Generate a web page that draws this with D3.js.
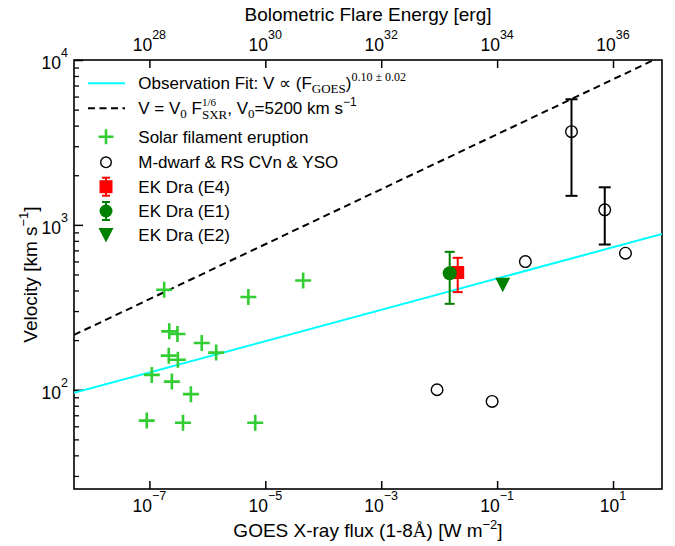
<!DOCTYPE html>
<html><head><meta charset="utf-8">
<script src="https://cdn.jsdelivr.net/npm/d3@7"></script>
<style>body{margin:0;background:#fff}svg{display:block}text{white-space:pre}</style>
</head><body>
<svg id="c" width="675" height="546"></svg>
<script>
// ---------- data ----------
const solarFlux = [1.8e-7, 5.1e-6, 4.5e-5, 2.2e-7, 3.05e-7, 8.0e-7, 1.42e-6, 2.16e-7, 3.1e-7, 1.1e-7, 2.44e-7, 5.2e-7, 9.0e-8, 3.8e-7, 6.7e-6];
const solarVel  = [404, 365, 460, 226, 218, 192, 168, 161, 152, 123, 112, 94, 65, 63, 63];

const stellarFlux    = [0.307, 0.0092, 0.082, 1.92, 7.2, 16.4];
const stellarVel     = [599, 100, 85, 3675, 1233, 673];
const stellarErrLow  = [null, null, null, 1500, 760, null];
const stellarErrHigh = [null, null, null, 5780, 1690, null];

const ekNames = ["EK Dra (E4)", "EK Dra (E1)", "EK Dra (E2)"];
const ekFlux  = [0.0209, 0.0152, 0.125];
const ekVel   = [514, 509, 433];
const ekLow   = [391, 332, null];
const ekHigh  = [631, 686, null];

const fitAmp = 588, fitExp = 0.095;       // observation fit V = A F^b
const v0 = 5200, v0Exp = 1 / 6;            // V = V0 F^(1/6)

const xTicks = [1e-7, 1e-5, 1e-3, 1e-1, 1e1];
const xTickExp = ["−7", "−5", "−3", "−1", "1"];
const topTicks = [1e28, 1e30, 1e32, 1e34, 1e36];
const topTickExp = ["28", "30", "32", "34", "36"];
const yTicks = [1e2, 1e3, 1e4];
const yTickExp = ["2", "3", "4"];
const energyFactor = 1e35;

// ---------- layout ----------
const L = 74, R = 662, T = 60, B = 489;
const sans = "'Liberation Sans', Arial, sans-serif";
const serif = "'Liberation Serif', 'Times New Roman', serif";
const svg = d3.select("#c");

const x = d3.scaleLog().domain([5e-9, 70]).range([L, R]);
const xTop = d3.scaleLog().domain([5e-9 * energyFactor, 70 * energyFactor]).range([L, R]);
const y = d3.scaleLog().domain([25, 1e4]).range([B, T]);

svg.append("defs").append("clipPath").attr("id", "clip")
  .append("rect").attr("x", L).attr("y", T).attr("width", R - L).attr("height", B - T);

// rich text helper
function rich(g, x0, y0, segs, anchor) {
  const grp = g.append("g");
  let cx = x0, held = 0;
  segs.forEach(s => {
    const t = grp.append("text").attr("x", cx).attr("y", y0 + (s.dy || 0))
      .style("font-family", s.serif ? serif : sans)
      .style("font-size", (s.size || 17) + "px").attr("fill", "#000").text(s.t);
    const w = t.node().getComputedTextLength();
    if (s.hold) { held = w; }
    else { cx += Math.max(w, held) + (s.gap || 0); held = 0; }
  });
  if (anchor === "middle") grp.attr("transform", `translate(${-(cx - x0) / 2},0)`);
  return grp;
}

// ---------- axes ----------
const axB = d3.axisBottom(x).tickValues(xTicks).tickFormat("").tickSize(-8).tickSizeOuter(0);
svg.append("g").attr("transform", `translate(0,${B})`).call(axB)
  .call(g => g.select(".domain").remove())
  .call(g => g.selectAll("line").attr("stroke-width", 1.5));
const axT = d3.axisTop(xTop).tickValues(topTicks).tickFormat("").tickSize(-8).tickSizeOuter(0);
svg.append("g").attr("transform", `translate(0,${T})`).call(axT)
  .call(g => g.select(".domain").remove())
  .call(g => g.selectAll("line").attr("stroke-width", 1.5));
const axL = d3.axisLeft(y).tickValues(yTicks).tickFormat("").tickSize(-9).tickSizeOuter(0);
svg.append("g").attr("transform", `translate(${L},0)`).call(axL)
  .call(g => g.select(".domain").remove())
  .call(g => g.selectAll("line").attr("stroke-width", 1.5));
const minor = [];
[10, 100, 1000].forEach(d => { for (let k = 2; k <= 9; k++) { const v = k * d; if (v >= 25 && v < 1e4) minor.push(v); } });
const axLm = d3.axisLeft(y).tickValues(minor).tickFormat("").tickSize(-5).tickSizeOuter(0);
svg.append("g").attr("transform", `translate(${L},0)`).call(axLm)
  .call(g => g.select(".domain").remove())
  .call(g => g.selectAll("line").attr("stroke-width", 1.3));

// tick labels
function expLabel(g, px, py, exp, anchor) {
  const t = g.append("text").attr("x", px).attr("y", py).attr("text-anchor", anchor)
    .style("font-family", sans).style("font-size", "17.5px");
  t.append("tspan").text("10");
  t.append("tspan").attr("dy", -12).style("font-size", "12.5px").text(exp);
}
xTicks.forEach((v, i) => expLabel(svg, x(v), 512, xTickExp[i], "middle"));
topTicks.forEach((v, i) => expLabel(svg, xTop(v), 51, topTickExp[i], "middle"));
yTicks.forEach((v, i) => expLabel(svg, 68, y(v) + 9, yTickExp[i], "end"));

// frame
svg.append("rect").attr("x", L).attr("y", T).attr("width", R - L).attr("height", B - T)
  .attr("fill", "none").attr("stroke", "#000").attr("stroke-width", 1.6);

// axis titles
rich(svg, (L + R) / 2, 21, [{ t: "Bolometric Flare Energy [erg]", size: 19 }], "middle");
rich(svg, (L + R) / 2, 537, [
  { t: "GOES X-ray flux (1-8", size: 19 }, { t: "Å", size: 19, serif: true },
  { t: ") [W m", size: 19 }, { t: "−2", size: 13, dy: -8 }, { t: "]", size: 19 }], "middle");
const yt = svg.append("g").attr("transform", `translate(37,${(T + B) / 2}) rotate(-90)`);
rich(yt, 0, 0, [{ t: "Velocity [km s", size: 19 }, { t: "−1", size: 13, dy: -9 }, { t: "]", size: 19 }], "middle");

// ---------- lines ----------
const plot = svg.append("g").attr("clip-path", "url(#clip)");
const xs = x.domain();
const line = d3.line().x(d => x(d[0])).y(d => y(d[1]));
plot.append("path").datum(xs.map(f => [f, v0 * Math.pow(f, v0Exp)]))
  .attr("d", line).attr("fill", "none").attr("stroke", "#000").attr("stroke-width", 2)
  .attr("stroke-dasharray", "7,4.5");
plot.append("path").datum(xs.map(f => [f, fitAmp * Math.pow(f, fitExp)]))
  .attr("d", line).attr("fill", "none").attr("stroke", "#00ffff").attr("stroke-width", 2);

// ---------- markers ----------
const plusPath = "M-8,0H8M0,-8V8";
const triPath = "M-7.5,-7L7.5,-7L0,7.5Z";
const lime = "#32cd32", dgreen = "#008000";

solarFlux.forEach((f, i) => {
  plot.append("path").attr("d", plusPath).attr("transform", `translate(${x(f)},${y(solarVel[i])})`)
    .attr("stroke", lime).attr("stroke-width", 2.6).attr("fill", "none");
});

function errBar(g, px, lo, hi, color, cap) {
  g.append("line").attr("x1", px).attr("x2", px).attr("y1", y(lo)).attr("y2", y(hi))
    .attr("stroke", color).attr("stroke-width", 2);
  [lo, hi].forEach(v => g.append("line").attr("x1", px - cap).attr("x2", px + cap)
    .attr("y1", y(v)).attr("y2", y(v)).attr("stroke", color).attr("stroke-width", 2));
}

stellarFlux.forEach((f, i) => {
  if (stellarErrLow[i] != null) errBar(plot, x(f), stellarErrLow[i], stellarErrHigh[i], "#000", 6);
  plot.append("circle").attr("cx", x(f)).attr("cy", y(stellarVel[i])).attr("r", 5.8)
    .attr("fill", "none").attr("stroke", "#000").attr("stroke-width", 1.4);
});

// E4 red square
errBar(plot, x(ekFlux[0]), ekLow[0], ekHigh[0], "red", 5);
plot.append("rect").attr("x", x(ekFlux[0]) - 6.5).attr("y", y(ekVel[0]) - 6.5)
  .attr("width", 13).attr("height", 13).attr("fill", "red");
// E1 green circle
errBar(plot, x(ekFlux[1]), ekLow[1], ekHigh[1], dgreen, 5);
plot.append("circle").attr("cx", x(ekFlux[1])).attr("cy", y(ekVel[1])).attr("r", 7).attr("fill", dgreen);
// E2 triangle
plot.append("path").attr("d", triPath).attr("transform", `translate(${x(ekFlux[2])},${y(ekVel[2])})`)
  .attr("fill", dgreen);

// ---------- legend ----------
const lg = svg.append("g");
const lx = 106, tx = 138.3;
const rowsY = [83.3, 108.3, 136.7, 162.3, 186.7, 211, 235];
lg.append("line").attr("x1", 88).attr("x2", 125).attr("y1", rowsY[0]).attr("y2", rowsY[0])
  .attr("stroke", "#00ffff").attr("stroke-width", 2);
lg.append("line").attr("x1", 88).attr("x2", 125).attr("y1", rowsY[1]).attr("y2", rowsY[1])
  .attr("stroke", "#000").attr("stroke-width", 2).attr("stroke-dasharray", "7,4.5");
lg.append("path").attr("d", "M-7.5,0H7.5M0,-7.5V7.5").attr("transform", `translate(${lx},${rowsY[2]})`)
  .attr("stroke", lime).attr("stroke-width", 2.6);
lg.append("circle").attr("cx", lx).attr("cy", rowsY[3]).attr("r", 5.3).attr("fill", "none")
  .attr("stroke", "#000").attr("stroke-width", 1.4);
function legErr(yy, color) {
  lg.append("line").attr("x1", lx).attr("x2", lx).attr("y1", yy - 9).attr("y2", yy + 9).attr("stroke", color).attr("stroke-width", 2);
  [-9, 9].forEach(o => lg.append("line").attr("x1", lx - 4).attr("x2", lx + 4).attr("y1", yy + o).attr("y2", yy + o).attr("stroke", color).attr("stroke-width", 2));
}
legErr(rowsY[4], "red");
lg.append("rect").attr("x", lx - 6.5).attr("y", rowsY[4] - 6.5).attr("width", 13).attr("height", 13).attr("fill", "red");
legErr(rowsY[5], dgreen);
lg.append("circle").attr("cx", lx).attr("cy", rowsY[5]).attr("r", 6.5).attr("fill", dgreen);
lg.append("path").attr("d", triPath).attr("transform", `translate(${lx},${rowsY[6]})`).attr("fill", dgreen);

const bl = 6;
rich(lg, tx, rowsY[0] + bl, [
  { t: "Observation Fit: V ∝ (F" }, { t: "GOES", serif: true, size: 13, dy: 4 },
  { t: ")" }, { t: "0.10 ± 0.02", serif: true, size: 12, dy: -8 }]);
rich(lg, tx, rowsY[1] + bl, [
  { t: "V = V" }, { t: "0", serif: true, size: 13, dy: 4 }, { t: " F" },
  { t: "1/6", serif: true, size: 11, dy: -8, hold: true }, { t: "SXR", serif: true, size: 13, dy: 5 },
  { t: ", V" }, { t: "0", serif: true, size: 13, dy: 4 }, { t: "=5200 km s" }, { t: "−1", size: 12, dy: -8 }]);
rich(lg, tx, rowsY[2] + bl, [{ t: "Solar filament eruption" }]);
rich(lg, tx, rowsY[3] + bl, [{ t: "M-dwarf & RS CVn & YSO" }]);
ekNames.forEach((n, i) => rich(lg, tx, rowsY[4 + i] + bl, [{ t: n }]));
</script>
</body></html>
